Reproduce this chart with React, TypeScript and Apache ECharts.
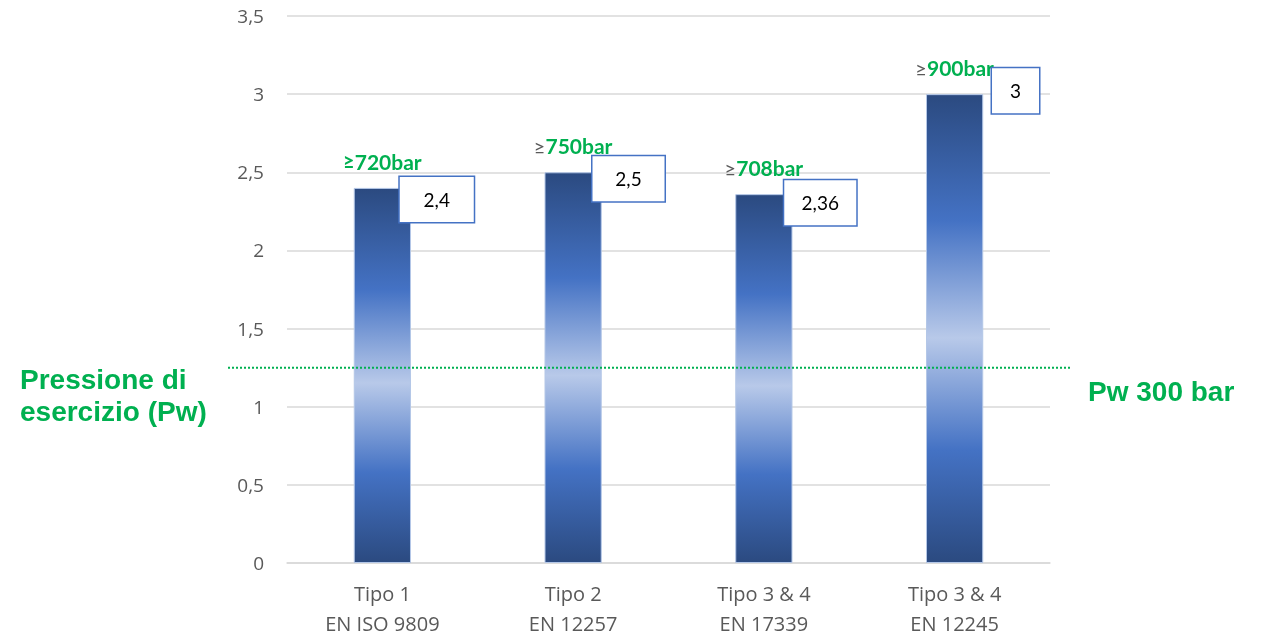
import React, { useEffect, useRef } from "react";
import * as echarts from "echarts";

const categories = ["Tipo 1\nEN ISO 9809", "Tipo 2\nEN 12257", "Tipo 3 & 4\nEN 17339", "Tipo 3 & 4\nEN 12245"];
const values = [2.4, 2.5, 2.36, 3];
const burstLabels = ["720bar", "750bar", "708bar", "900bar"];
const symbolIsGreen = [true, false, false, false];
const workingPressureLevel = 1.25;
const yTicks = { min: 0, max: 3.5, interval: 0.5 };

// label box placement & widths (style, relative to bar top-left)
const valueLabelOffsets = [
  [46, -11],
  [48, -16],
  [49, -14],
  [66, -26],
];
const valueLabelWidths = [77, 75, 75, 50];

const GREEN = "#00b050";
const GREY = "#595959";

export default function App() {
  const ref = useRef<HTMLDivElement>(null);
  useEffect(() => {
    const chart = echarts.init(ref.current!, null, { renderer: "svg" });
    const barGradient = new echarts.graphic.LinearGradient(0, 0, 0, 1, [
      { offset: 0, color: "#2b4a80" },
      { offset: 0.27, color: "#4472c4" },
      { offset: 0.52, color: "#b8c9e9" },
      { offset: 0.76, color: "#4472c4" },
      { offset: 1, color: "#2b4a80" },
    ]);
    const fmt = (v: number) => String(v).replace(".", ",");
    chart.setOption({
      animation: false,
      grid: { left: 287, right: 218, top: 16, bottom: 73, containLabel: false },
      xAxis: {
        type: "category",
        data: categories,
        axisLine: { lineStyle: { color: "#d9d9d9", width: 1.5 } },
        axisTick: { show: false },
        axisLabel: { color: GREY, fontFamily: "Open Sans", fontSize: 20, lineHeight: 30, margin: 15 },
      },
      yAxis: {
        type: "value",
        min: yTicks.min,
        max: yTicks.max,
        interval: yTicks.interval,
        axisLine: { show: false },
        axisTick: { show: false },
        splitLine: { lineStyle: { color: "#d9d9d9", width: 1.5 } },
        axisLabel: { color: GREY, fontFamily: "Open Sans", fontSize: 19, margin: 23, formatter: fmt },
      },
      series: [
        {
          type: "bar",
          data: values.map((v, i) => ({
            value: v,
            label: {
              position: valueLabelOffsets[i],
              rich: {
                b: { width: valueLabelWidths[i] - 3, align: "center", color: "#000", fontFamily: "Lato", fontSize: 19 },
              },
            },
          })),
          barWidth: "30%",
          itemStyle: { color: barGradient, borderColor: "#b4c7e7", borderWidth: 1 },
          label: {
            show: true,
            formatter: (p: any) => "{b|" + fmt(p.value) + "}",
            color: "#000",
            fontFamily: "Lato",
            fontSize: 19,
            backgroundColor: "#fff",
            borderColor: "#4472c4",
            borderWidth: 1.5,
            padding: [13, 0, 13, 0],
          },
          z: 2,
        },
        {
          type: "bar",
          data: values,
          barWidth: "30%",
          barGap: "-100%",
          itemStyle: { color: "transparent" },
          silent: true,
          z: 1,
          label: {
            show: true,
            position: "top",
            distance: 16,
            formatter: (p: any) =>
              (symbolIsGreen[p.dataIndex] ? "{gs|≥}" : "{s|≥}") + "{v|" + burstLabels[p.dataIndex] + "}",
            rich: {
              s: { color: GREY, fontFamily: "Lato", fontSize: 20 },
              gs: { color: GREEN, fontFamily: "Lato", fontSize: 20, fontWeight: "bold" },
              v: { color: GREEN, fontFamily: "Lato", fontSize: 21, fontWeight: "bold" },
            },
          },
        },
      ],
    });
    const y = chart.convertToPixel({ yAxisIndex: 0 }, workingPressureLevel) as number;
    chart.setOption({
      graphic: [
        {
          type: "line",
          shape: { x1: 228, y1: y, x2: 1070, y2: y },
          style: { stroke: GREEN, lineWidth: 2, lineDash: [2, 2] },
          z: 10,
        },
        {
          type: "text",
          x: 20,
          y: y + 28,
          style: {
            text: "Pressione di\nesercizio (Pw)",
            fill: GREEN,
            font: "bold 28px 'Liberation Sans', Arial, sans-serif",
            lineHeight: 32,
            verticalAlign: "middle",
          },
        },
        {
          type: "text",
          x: 1088,
          y: y + 24,
          style: {
            text: "Pw 300 bar",
            fill: GREEN,
            font: "bold 28px 'Liberation Sans', Arial, sans-serif",
            verticalAlign: "middle",
          },
        },
      ],
    });
    return () => chart.dispose();
  }, []);
  return <div ref={ref} style={{ position: "fixed", left: 0, top: 0, width: 1268, height: 638 }} />;
}
